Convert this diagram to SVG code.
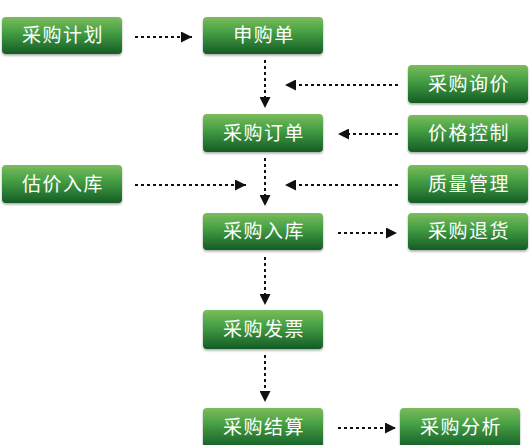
<svg xmlns="http://www.w3.org/2000/svg" width="531" height="445" viewBox="0 0 531 445">
<defs>
<linearGradient id="g" x1="0" y1="0" x2="0" y2="1">
<stop offset="0" stop-color="#7cbc5c"/>
<stop offset="0.4" stop-color="#46a044"/>
<stop offset="1" stop-color="#145c26"/>
</linearGradient>
<filter id="sh" x="-10%" y="-20%" width="120%" height="150%">
<feDropShadow dx="0" dy="1.5" stdDeviation="1.2" flood-color="#000" flood-opacity="0.35"/>
</filter>
<marker id="ah" viewBox="0 0 11 11" refX="11" refY="5.5" markerWidth="11" markerHeight="11" markerUnits="userSpaceOnUse" orient="auto">
<path d="M0,0 L11,5.5 L0,11 Z" fill="#111"/>
</marker>
</defs>
<style>
.box{fill:url(#g);filter:url(#sh)}
.t{font-family:"Noto Sans CJK SC","Noto Sans",sans-serif;font-size:19px;fill:#fff;text-anchor:middle;letter-spacing:1.5px}
.c{fill:none;stroke:#111;stroke-width:2;stroke-dasharray:3 3;marker-end:url(#ah)}
</style>
<rect width="531" height="445" fill="#fff"/>
<g id="n1"><rect class="box" x="2" y="17" width="120" height="37" rx="4"/><text class="t" x="63" y="42">采购计划</text></g>
<g id="n2"><rect class="box" x="203" y="17" width="120" height="37" rx="4"/><text class="t" x="264" y="42">申购单</text></g>
<g id="n3"><rect class="box" x="408" y="65" width="120" height="38" rx="4"/><text class="t" x="469" y="91">采购询价</text></g>
<g id="n4"><rect class="box" x="203" y="114" width="120" height="38" rx="4"/><text class="t" x="264" y="140">采购订单</text></g>
<g id="n5"><rect class="box" x="408" y="115" width="120" height="37" rx="4"/><text class="t" x="469" y="140">价格控制</text></g>
<g id="n6"><rect class="box" x="2" y="165" width="120" height="38" rx="4"/><text class="t" x="63" y="191">估价入库</text></g>
<g id="n7"><rect class="box" x="408" y="165" width="120" height="38" rx="4"/><text class="t" x="469" y="191">质量管理</text></g>
<g id="n8"><rect class="box" x="203" y="213" width="120" height="37" rx="4"/><text class="t" x="264" y="238">采购入库</text></g>
<g id="n9"><rect class="box" x="408" y="213" width="120" height="37" rx="4"/><text class="t" x="469" y="238">采购退货</text></g>
<g id="n10"><rect class="box" x="203" y="310" width="120" height="39" rx="4"/><text class="t" x="264" y="336">采购发票</text></g>
<g id="n11"><rect class="box" x="203" y="408" width="120" height="40" rx="4"/><text class="t" x="264" y="434">采购结算</text></g>
<g id="n12"><rect class="box" x="400" y="408" width="120" height="40" rx="4"/><text class="t" x="461" y="434">采购分析</text></g>
<g id="connectors">
<line class="c" x1="135" y1="37" x2="192" y2="37"/>
<line class="c" x1="265" y1="60" x2="265" y2="108"/>
<line class="c" x1="398" y1="85" x2="285" y2="85"/>
<line class="c" x1="398" y1="134" x2="338" y2="134"/>
<line class="c" x1="265" y1="158" x2="265" y2="206"/>
<line class="c" x1="398" y1="185" x2="285" y2="185"/>
<line class="c" x1="135" y1="185" x2="246" y2="185"/>
<line class="c" x1="338" y1="233" x2="397" y2="233"/>
<line class="c" x1="265" y1="257" x2="265" y2="305"/>
<line class="c" x1="265" y1="355" x2="265" y2="402"/>
<line class="c" x1="338" y1="428" x2="396" y2="428"/>
</g>
</svg>
